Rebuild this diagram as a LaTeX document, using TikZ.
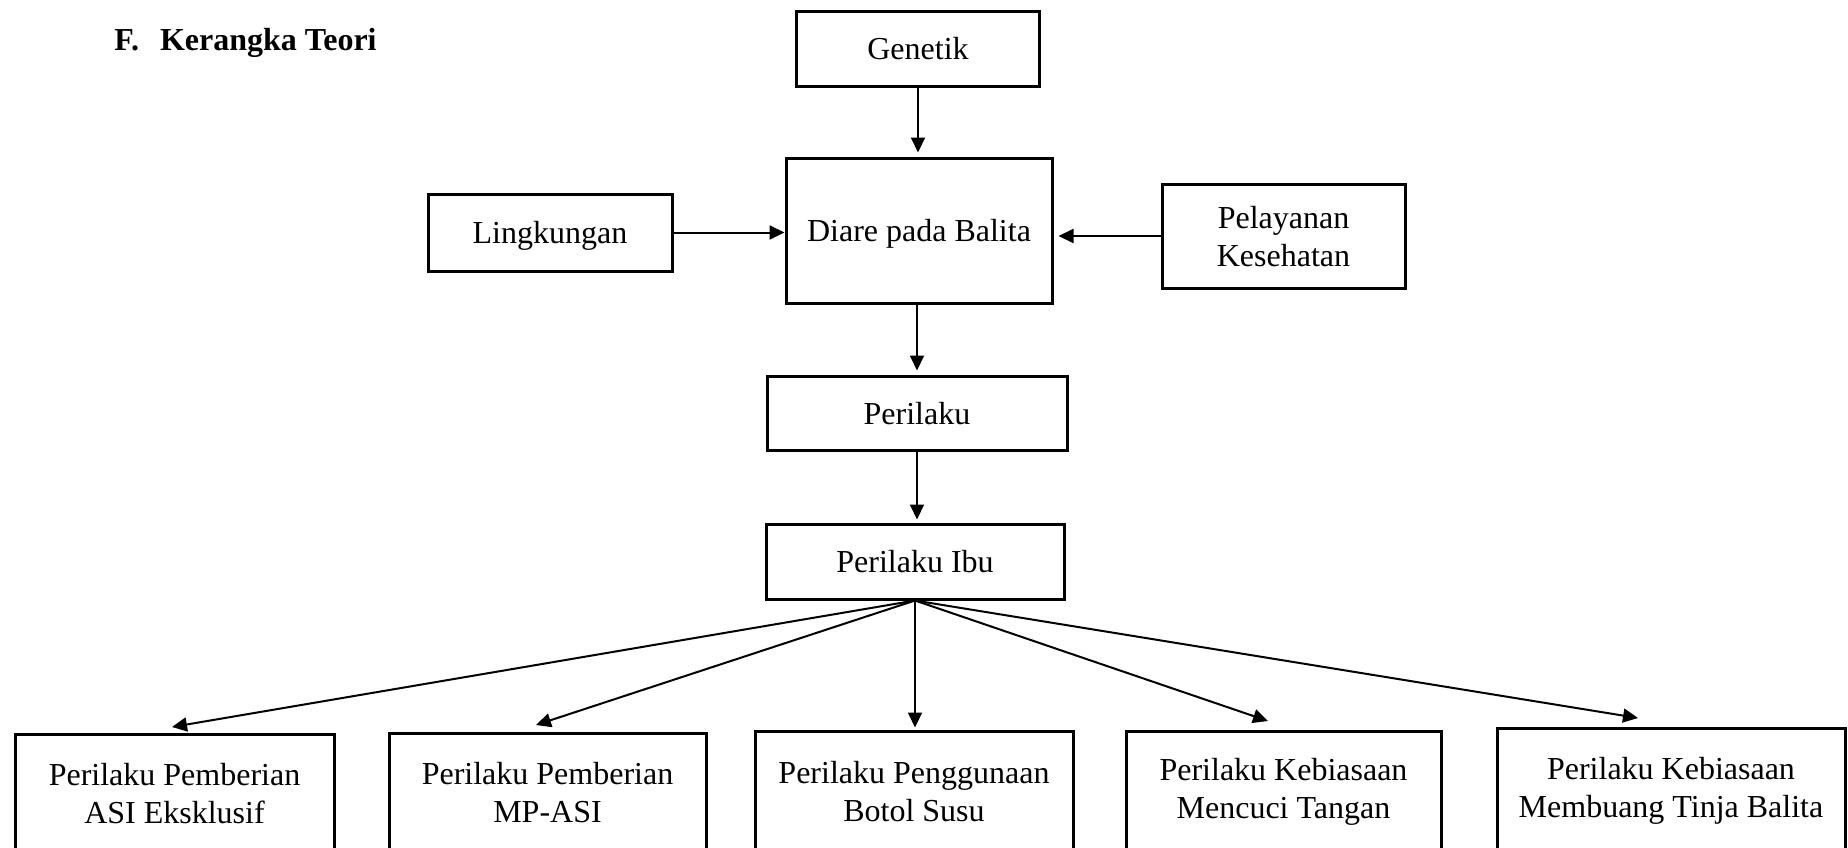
\documentclass[tikz,border=0pt]{standalone}
\usepackage{fontspec}
\setmainfont{Liberation Serif}
\usetikzlibrary{arrows.meta,calc}
\begin{document}
\begin{tikzpicture}[x=0.5pt,y=-0.5pt,
  box/.style={draw, line width=1.5pt, inner sep=0pt, align=center, font=\fontsize{16}{19}\selectfont},
  flat/.style={text depth=0pt},
  arr/.style={line width=1pt, -{Triangle[length=7.5pt,width=7pt]}},
]
\useasboundingbox (0,0) rectangle (1848,847);
\clip (0,0) rectangle (1848,847);
\node[font=\fontsize{16}{19}\selectfont\bfseries, anchor=west, inner sep=0pt] (title) at (114,42.5) {F.\hspace{10.5pt}Kerangka Teori};
\node[box, flat, minimum width=121.5pt, minimum height=37.5pt] (gen) at (918,48.5) {Genetik};
\node[box, flat, minimum width=133pt, minimum height=72.5pt] (dia) at (919,230.5) {Diare pada Balita};
\node[box, flat, minimum width=122pt, minimum height=38.5pt] (lin) at (550,232.5) {Lingkungan};
\node[box, flat, minimum width=121.5pt, minimum height=52pt] (pel) at (1283.5,236) {Pelayanan\\Kesehatan};
\node[box, flat, minimum width=150pt, minimum height=37pt] (per) at (917,413) {Perilaku};
\node[box, flat, minimum width=149pt, minimum height=37.5pt] (ibu) at (915,561.5) {Perilaku Ibu};
\node[box, minimum width=159.5pt, minimum height=60pt] (b1) at (174.5,794) {Perilaku Pemberian\\ASI Eksklusif};
\node[box, minimum width=158.5pt, minimum height=60pt] (b2) at (547.5,793) {Perilaku Pemberian\\MP-ASI};
\node[box, minimum width=159pt, minimum height=61pt] (b3) at (914,792) {Perilaku Penggunaan\\Botol Susu};
\node[box, minimum width=157.5pt, minimum height=61pt] (b4) at (1283.5,792) {Perilaku Kebiasaan\\Mencuci Tangan};
\node[box, minimum width=174pt, minimum height=63pt] (b5) at (1671,791) {Perilaku Kebiasaan\\Membuang Tinja Balita};
\coordinate (t1) at (172,727);
\coordinate (t2) at (536,725);
\coordinate (t4) at (1268,721);
\coordinate (t5) at (1638,718);
\draw[arr] (gen.south) -- ([yshift=2pt]gen.south |- dia.north);
\draw[arr] (lin.east) -- (lin.east -| dia.west);
\draw[arr] (pel.west) -- ([xshift=2.5pt]pel.west -| dia.east);
\draw[arr] ([xshift=-1pt]dia.south) -- ([xshift=-1pt,yshift=2pt]dia.south |- per.north);
\draw[arr] (per.south) -- ([yshift=1.5pt]per.south |- ibu.north);
\draw[arr] (ibu.south) -- (t1);
\draw[arr] (ibu.south) -- (t2);
\draw[arr] (ibu.south) -- ([yshift=1pt]ibu.south |- b3.north);
\draw[arr] (ibu.south) -- (t4);
\draw[arr] (ibu.south) -- (t5);
\end{tikzpicture}
\end{document}
